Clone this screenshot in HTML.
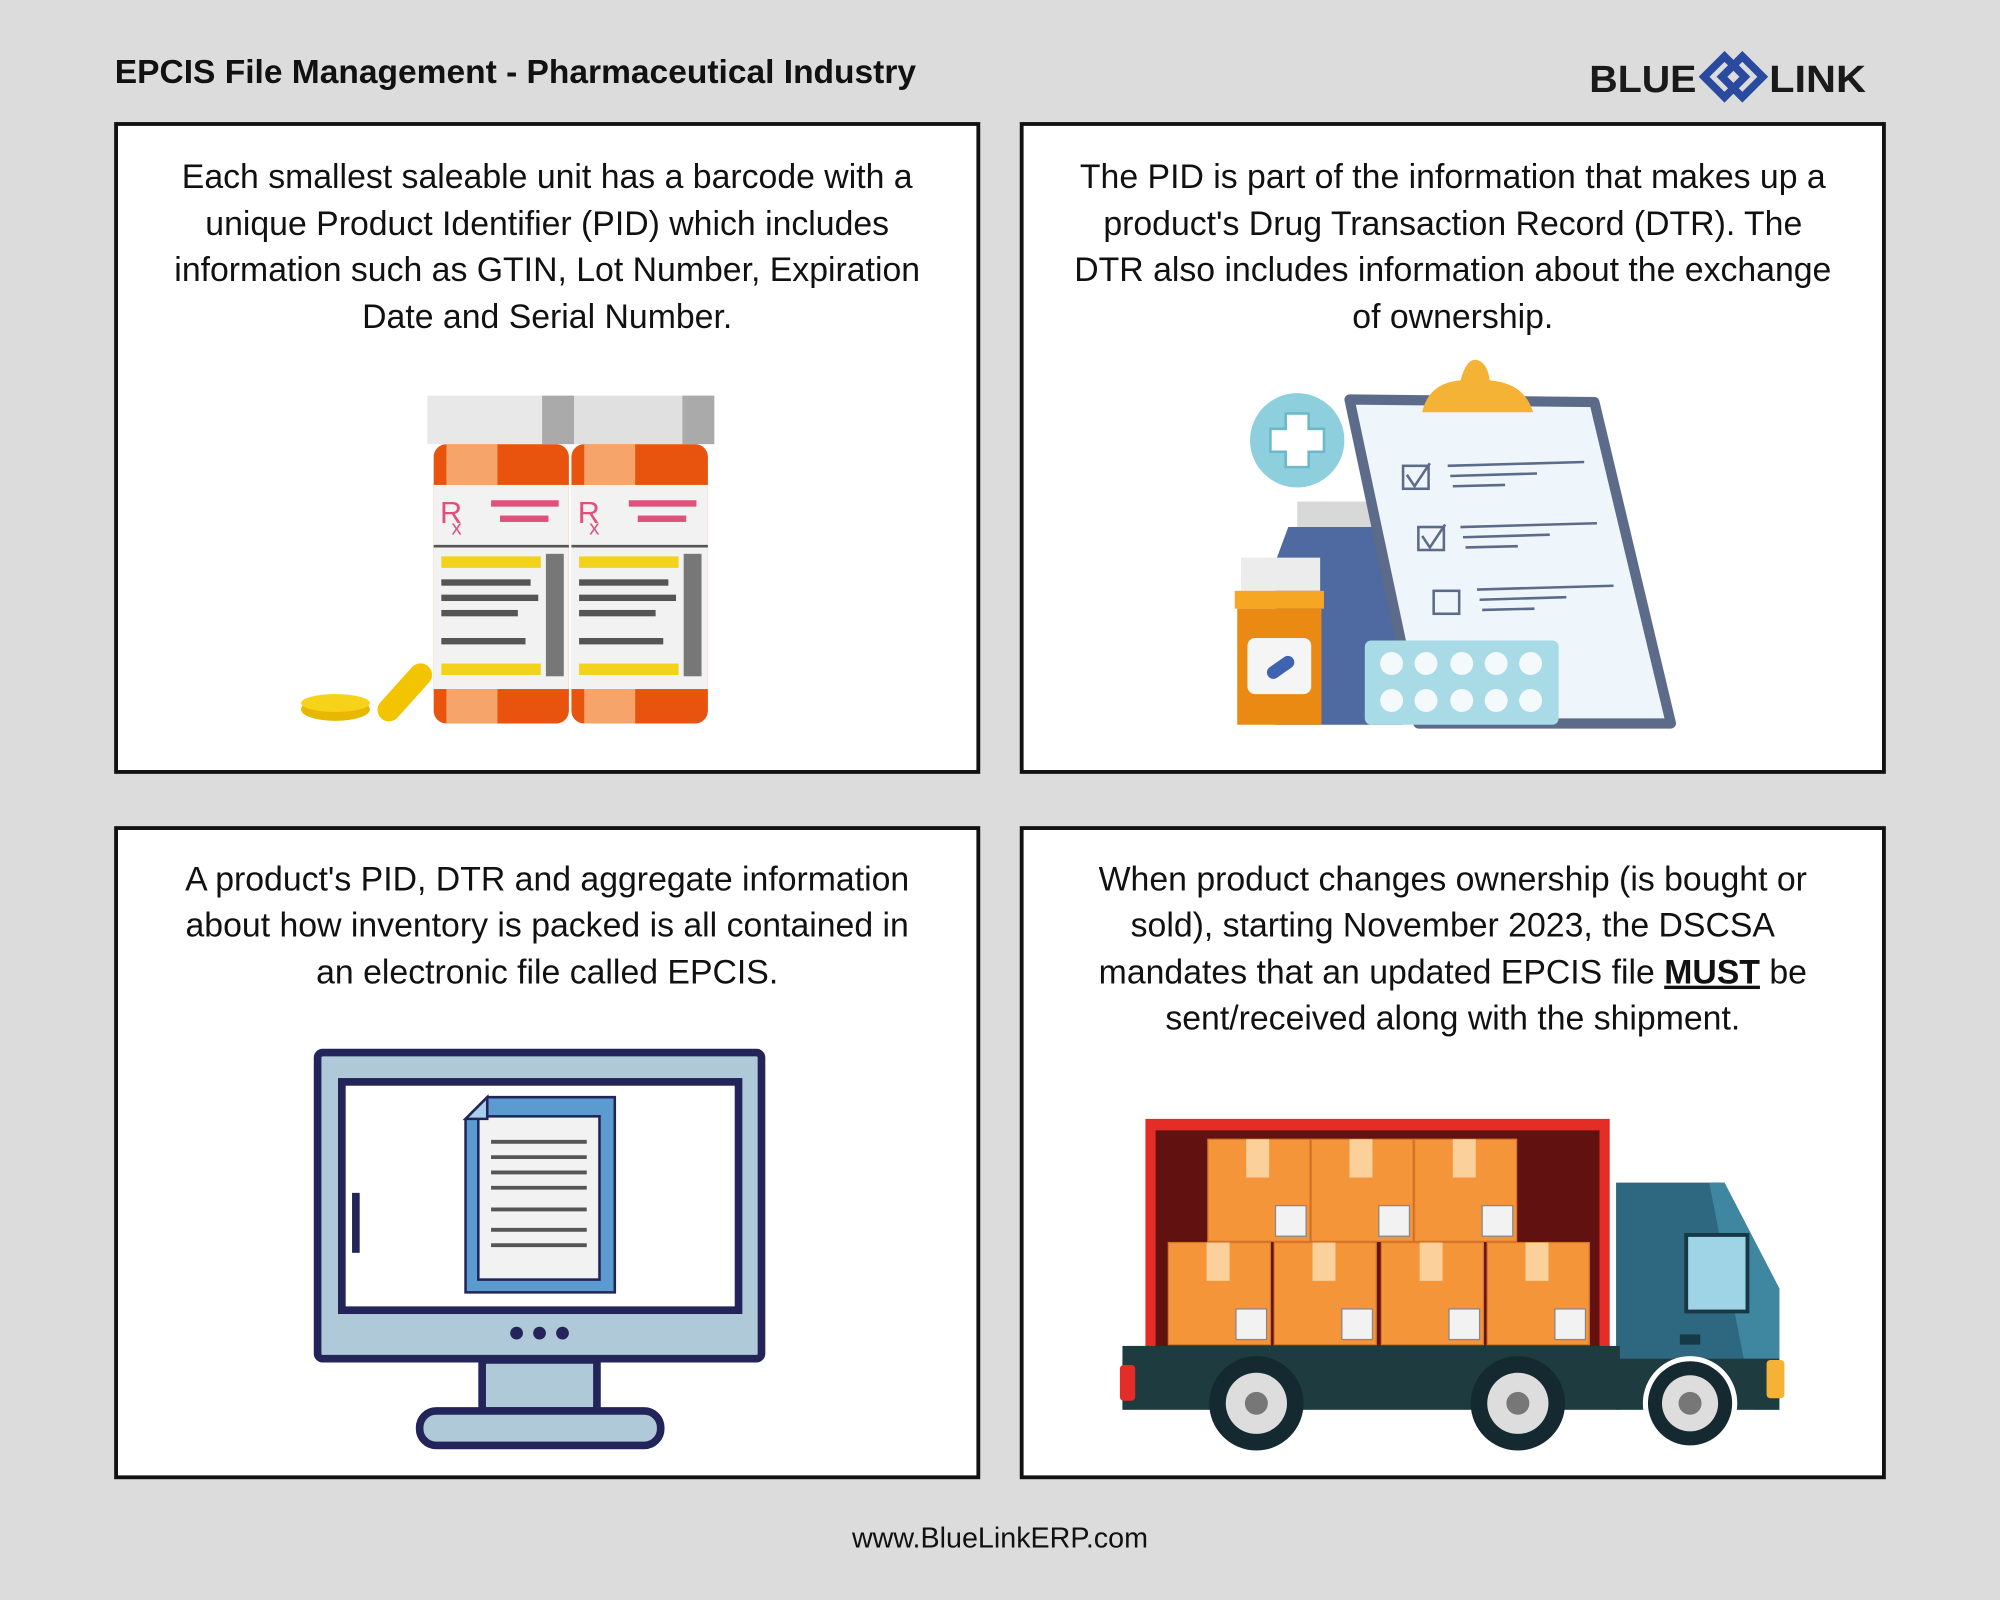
<!DOCTYPE html>
<html><head><meta charset="utf-8"><style>
html,body{margin:0;padding:0;background:#dcdcdc;}
svg{display:block;}
text{font-family:"Liberation Sans",sans-serif;}
</style></head><body>
<svg width="2000" height="1600" viewBox="0 0 1568 1254" xmlns="http://www.w3.org/2000/svg">
<rect width="1568" height="1254" fill="#dcdcdc"/>
<text x="90" y="65" font-size="26.3" font-weight="bold" fill="#111">EPCIS File Management - Pharmaceutical Industry</text>
<!-- logo -->
<text x="1246" y="72" font-size="30" font-weight="bold" textLength="84" lengthAdjust="spacingAndGlyphs" fill="#1a1a1a">BLUE</text>
<text x="1387" y="72" font-size="30" font-weight="bold" textLength="76" lengthAdjust="spacingAndGlyphs" fill="#1a1a1a">LINK</text>
<g fill="none" stroke="#2a4aa0" stroke-width="6">
<path d="M1352 44 L1368 60 L1352 76 L1336 60 Z"/>
<path d="M1366 44 L1382 60 L1366 76 L1350 60 Z"/>
</g>
<!-- panels -->
<g fill="#fff" stroke="#111" stroke-width="3">
<rect x="91" y="97" width="676" height="508"/>
<rect x="801" y="97" width="676" height="508"/>
<rect x="91" y="649" width="676" height="509"/>
<rect x="801" y="649" width="676" height="509"/>
</g>
<g font-size="26.5" fill="#111" text-anchor="middle">
<text x="429" y="147">Each smallest saleable unit has a barcode with a</text>
<text x="429" y="184">unique Product Identifier (PID) which includes</text>
<text x="429" y="220">information such as GTIN, Lot Number, Expiration</text>
<text x="429" y="257">Date and Serial Number.</text>
<text x="1139" y="147">The PID is part of the information that makes up a</text>
<text x="1139" y="184">product's Drug Transaction Record (DTR). The</text>
<text x="1139" y="220">DTR also includes information about the exchange</text>
<text x="1139" y="257">of ownership.</text>
<text x="429" y="698">A product's PID, DTR and aggregate information</text>
<text x="429" y="734">about how inventory is packed is all contained in</text>
<text x="429" y="771">an electronic file called EPCIS.</text>
<text x="1139" y="698">When product changes ownership (is bought or</text>
<text x="1139" y="734">sold), starting November 2023, the DSCSA</text>
<text x="1139" y="771">mandates that an updated EPCIS file <tspan font-weight="bold" text-decoration="underline">MUST</tspan> be</text>
<text x="1139" y="807">sent/received along with the shipment.</text>
</g>
<text x="784" y="1213" font-size="22.5" fill="#111" text-anchor="middle">www.BlueLinkERP.com</text>

<!-- bottles -->
<g>
<ellipse cx="263" cy="556" rx="27" ry="9" fill="#e8b800"/>
<ellipse cx="263" cy="551" rx="27" ry="7" fill="#f7d21a"/>
<rect x="308" y="515" width="18" height="55" rx="9" fill="#f2c500" transform="rotate(42 317 543)"/>
<rect x="340" y="348" width="106" height="219" rx="10" fill="#e8540d"/>
<rect x="448" y="348" width="107" height="219" rx="10" fill="#e8540d"/>
<rect x="350" y="348" width="40" height="219" fill="#f6a46a"/>
<rect x="458" y="348" width="40" height="219" fill="#f6a46a"/>
<rect x="340" y="380" width="106" height="160" fill="#f2f2f2"/>
<rect x="448" y="380" width="107" height="160" fill="#f2f2f2"/>
<rect x="335" y="310" width="115" height="38" fill="#e8e8e8"/>
<rect x="443" y="310" width="117" height="38" fill="#e0e0e0"/>
<rect x="425" y="310" width="25" height="38" fill="#aaa"/>
<rect x="535" y="310" width="25" height="38" fill="#aaa"/>
<line x1="340" y1="428" x2="446" y2="428" stroke="#555" stroke-width="2"/>
<line x1="448" y1="428" x2="555" y2="428" stroke="#555" stroke-width="2"/>
<text x="345" y="410" font-size="24" fill="#e0507a">R</text><text x="354" y="419" font-size="16" fill="#e0507a">x</text>
<text x="453" y="410" font-size="24" fill="#e0507a">R</text><text x="462" y="419" font-size="16" fill="#e0507a">x</text>
<g fill="#e0507a"><rect x="385" y="392" width="53" height="5"/><rect x="392" y="404" width="38" height="5"/><rect x="493" y="392" width="53" height="5"/><rect x="500" y="404" width="38" height="5"/></g>
<g fill="#f2d21a"><rect x="346" y="436" width="78" height="9"/><rect x="454" y="436" width="78" height="9"/><rect x="346" y="520" width="78" height="9"/><rect x="454" y="520" width="78" height="9"/></g>
<g fill="#555"><rect x="346" y="454" width="70" height="5"/><rect x="346" y="466" width="76" height="5"/><rect x="346" y="478" width="60" height="5"/><rect x="346" y="500" width="66" height="5"/>
<rect x="454" y="454" width="70" height="5"/><rect x="454" y="466" width="76" height="5"/><rect x="454" y="478" width="60" height="5"/><rect x="454" y="500" width="66" height="5"/>
<rect x="428" y="434" width="14" height="96" fill="#777"/><rect x="536" y="434" width="14" height="96" fill="#777"/></g>
</g>

<!-- clipboard scene -->
<g>
<circle cx="1017" cy="345" r="37" fill="#8ecfdd"/>
<path d="M1008 324h18v12h12v18h-12v12h-18v-12h-12v-18h12z" fill="#fff" stroke="#6bb8cb" stroke-width="2"/>
<rect x="1017" y="393" width="70" height="20" fill="#d8d8d8"/>
<path d="M1010 413 L1090 413 L1100 440 L1100 568 L1000 568 L1000 440 Z" fill="#4f6aa0"/>
<polygon points="1058,313 1250,315 1310,567 1112,567" fill="#eef5fb" stroke="#5d6b8a" stroke-width="8" stroke-linejoin="round"/>
<path d="M1115 323 Q1120 300 1145 298 Q1150 280 1158 282 Q1166 284 1168 298 Q1195 300 1202 323 Z" fill="#f5b335"/>
<g stroke="#5d6b8a" stroke-width="2" fill="none">
<rect x="1100" y="365" width="20" height="18"/><rect x="1112" y="413" width="20" height="18"/><rect x="1124" y="463" width="20" height="18"/>
<path d="M1103 372 l6 9 l12 -18"/><path d="M1115 420 l6 9 l12 -18"/>
<line x1="1135" y1="365" x2="1242" y2="362"/><line x1="1137" y1="373" x2="1205" y2="371"/><line x1="1139" y1="381" x2="1180" y2="380"/>
<line x1="1145" y1="413" x2="1252" y2="410"/><line x1="1147" y1="421" x2="1215" y2="419"/><line x1="1149" y1="429" x2="1190" y2="428"/>
<line x1="1158" y1="462" x2="1265" y2="459"/><line x1="1160" y1="470" x2="1228" y2="468"/><line x1="1162" y1="478" x2="1203" y2="477"/>
</g>
<rect x="973" y="437" width="62" height="26" fill="#ececec"/>
<rect x="968" y="463" width="70" height="14" fill="#f5a623"/>
<rect x="970" y="477" width="66" height="91" fill="#ea8a12"/>
<rect x="978" y="500" width="50" height="44" rx="6" fill="#f5f5f5"/>
<rect x="992" y="518" width="24" height="10" rx="5" fill="#3f63b0" transform="rotate(-35 1004 523)"/>
<rect x="1070" y="502" width="152" height="66" rx="5" fill="#a8dbe6"/>
<g fill="#f4f9fb"><circle cx="1091" cy="520" r="9"/><circle cx="1118" cy="520" r="9"/><circle cx="1146" cy="520" r="9"/><circle cx="1173" cy="520" r="9"/><circle cx="1200" cy="520" r="9"/>
<circle cx="1091" cy="549" r="9"/><circle cx="1118" cy="549" r="9"/><circle cx="1146" cy="549" r="9"/><circle cx="1173" cy="549" r="9"/><circle cx="1200" cy="549" r="9"/></g>
</g>

<!-- monitor -->
<g stroke="#23255a" stroke-width="6">
<rect x="249" y="825" width="348" height="240" rx="4" fill="#b0c9d8"/>
<rect x="268" y="848" width="311" height="179" fill="#fff"/>
<rect x="378" y="1066" width="90" height="40" fill="#b0c9d8"/>
<rect x="329" y="1106" width="189" height="27" rx="13" fill="#b0c9d8"/>
</g>
<rect x="276" y="935" width="6" height="47" fill="#23255a"/>
<g fill="#23255a"><circle cx="405" cy="1045" r="5"/><circle cx="423" cy="1045" r="5"/><circle cx="441" cy="1045" r="5"/></g>
<path d="M382 860 H482 V1013 H365 V877 Z" fill="#5b9bd0" stroke="#23255a" stroke-width="2"/>
<rect x="375" y="875" width="95" height="128" fill="#f2f2f2" stroke="#23255a" stroke-width="2"/>
<path d="M365 877 L382 860 L382 877 Z" fill="#a8d0ec" stroke="#23255a" stroke-width="2"/>
<g stroke="#555" stroke-width="3"><line x1="385" y1="895" x2="460" y2="895"/><line x1="385" y1="907" x2="460" y2="907"/><line x1="385" y1="919" x2="460" y2="919"/><line x1="385" y1="931" x2="460" y2="931"/><line x1="385" y1="948" x2="460" y2="948"/><line x1="385" y1="964" x2="460" y2="964"/><line x1="385" y1="976" x2="460" y2="976"/></g>

<!-- truck -->
<g>
<rect x="898" y="877" width="364" height="188" fill="#e52d27"/>
<rect x="906" y="886" width="348" height="170" fill="#611210"/>
<g fill="#f5953a" stroke="#d9782a" stroke-width="1">
<rect x="947" y="893" width="80" height="80"/><rect x="1028" y="893" width="80" height="80"/><rect x="1109" y="893" width="80" height="80"/>
<rect x="916" y="974" width="80" height="80"/><rect x="999" y="974" width="80" height="80"/><rect x="1083" y="974" width="80" height="80"/><rect x="1166" y="974" width="80" height="80"/>
</g>
<g fill="#fbd09a"><rect x="977" y="893" width="18" height="30"/><rect x="1058" y="893" width="18" height="30"/><rect x="1139" y="893" width="18" height="30"/>
<rect x="946" y="974" width="18" height="30"/><rect x="1029" y="974" width="18" height="30"/><rect x="1113" y="974" width="18" height="30"/><rect x="1196" y="974" width="18" height="30"/></g>
<g fill="#f2f2f2" stroke="#888"><rect x="1000" y="945" width="24" height="24"/><rect x="1081" y="945" width="24" height="24"/><rect x="1162" y="945" width="24" height="24"/>
<rect x="969" y="1026" width="24" height="24"/><rect x="1052" y="1026" width="24" height="24"/><rect x="1136" y="1026" width="24" height="24"/><rect x="1219" y="1026" width="24" height="24"/></g>
<path d="M1267 927 H1352 L1395 1010 V1105 H1267 Z" fill="#2e6880"/>
<path d="M1340 927 H1352 L1395 1010 V1105 H1375 Z" fill="#3f86a0"/>
<rect x="1322" y="968" width="48" height="60" fill="#9fd3e6" stroke="#173845" stroke-width="3"/>
<rect x="1317" y="1046" width="16" height="8" fill="#173845"/>
<rect x="880" y="1055" width="390" height="50" fill="#1e3b40"/>
<rect x="880" y="1065" width="515" height="40" fill="#1e3b40"/>
<rect x="878" y="1070" width="12" height="28" rx="3" fill="#e52d27"/>
<rect x="1385" y="1066" width="14" height="30" rx="3" fill="#f5b335"/>
<g>
<circle cx="985" cy="1100" r="37" fill="#152a30"/><circle cx="985" cy="1100" r="24" fill="#ddd"/><circle cx="985" cy="1100" r="9" fill="#777"/>
<circle cx="1190" cy="1100" r="37" fill="#152a30"/><circle cx="1190" cy="1100" r="24" fill="#ddd"/><circle cx="1190" cy="1100" r="9" fill="#777"/>
<circle cx="1325" cy="1100" r="37" fill="#fff"/><circle cx="1325" cy="1100" r="33" fill="#152a30"/><circle cx="1325" cy="1100" r="22" fill="#ddd"/><circle cx="1325" cy="1100" r="9" fill="#777"/>
</g>
</g>
</svg>
</body></html>
